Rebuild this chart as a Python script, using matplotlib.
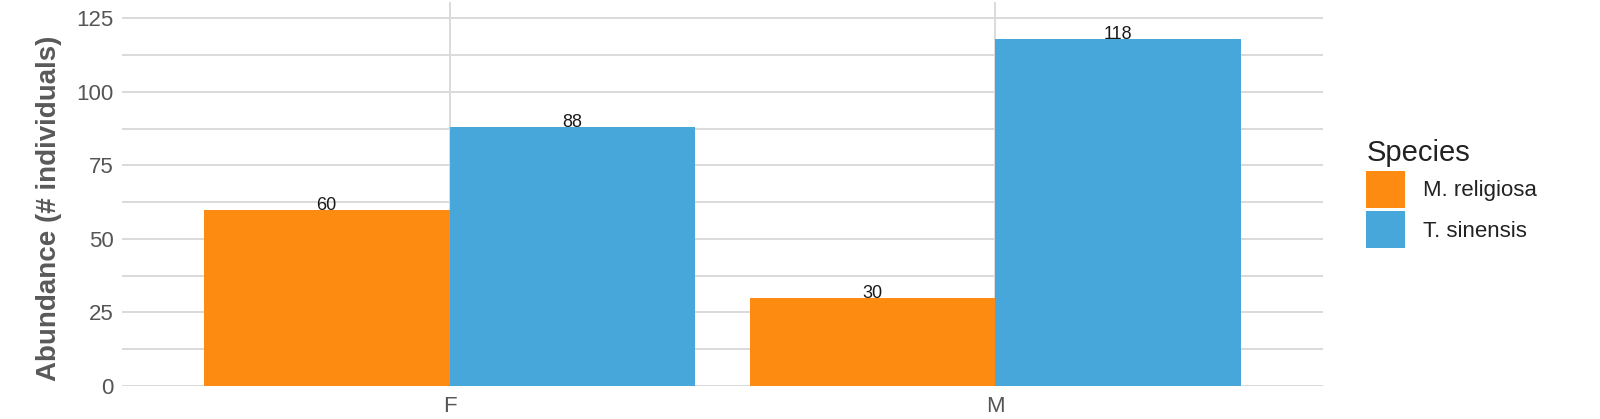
import numpy as np
import matplotlib.pyplot as plt
from matplotlib.patches import Patch

# data
sexes = ['F', 'M']
species = ['M. religiosa', 'T. sinensis']
religiosa = [60, 30]
sinensis = [88, 118]
colors = ['#FD8A11', '#48A7DA']

plt.rcParams['font.family'] = ['Liberation Sans', 'DejaVu Sans']

fig = plt.figure(figsize=(16, 4.19), dpi=100)
ax = fig.add_axes([122/1600, 33/419, (1323-122)/1600, (386-2)/419])

x = np.arange(1, len(sexes) + 1)
w = 0.45
b1 = ax.bar(x - w/2, religiosa, w, color=colors[0], linewidth=0, zorder=2)
b2 = ax.bar(x + w/2, sinensis, w, color=colors[1], linewidth=0, zorder=2)
for bars in (b1, b2):
    for r in bars:
        ax.text(r.get_x() + r.get_width()/2, r.get_height(), f'{int(r.get_height())}',
                ha='center', va='baseline', fontsize=13, color='#1a1a1a', zorder=3)

ax.set_xlim(0.4, 2.6)
ax.set_ylim(0, 130.6)
ax.set_xticks(x)
ax.set_xticklabels(sexes)
ax.set_yticks(np.arange(0, 126, 25))
ax.set_yticks(np.arange(12.5, 126, 25), minor=True)
ax.grid(True, which='major', color='#DADADA', linewidth=1.4, zorder=0)
ax.grid(True, which='minor', axis='y', color='#DADADA', linewidth=1.4, zorder=0)
ax.set_axisbelow(True)
ax.tick_params(which='both', length=0)
ax.tick_params(axis='y', labelsize=16, labelcolor='#555555', pad=6)
ax.tick_params(axis='x', labelsize=16, labelcolor='#555555', pad=7)
for s in ax.spines.values():
    s.set_visible(False)

fig.text(49/1600, 1 - 208/419, 'Abundance (# individuals)', rotation=90,
         ha='center', va='center', fontsize=20, fontweight='bold', color='#595959')

handles = [Patch(facecolor=c, edgecolor='none') for c in colors]
leg = fig.legend(handles, species, title='Species', loc='upper left',
                 bbox_to_anchor=(1352/1600, 1 - 125/419), frameon=False,
                 fontsize=16, title_fontsize=21, handlelength=1.75, handleheight=2.15,
                 labelspacing=0.17, handletextpad=0.8, borderpad=0.65, borderaxespad=0,
                 alignment='left')
for t in leg.get_texts():
    t.set_color('#222222')
leg.get_title().set_color('#222222')

fig.savefig('out.png', dpi=100)
